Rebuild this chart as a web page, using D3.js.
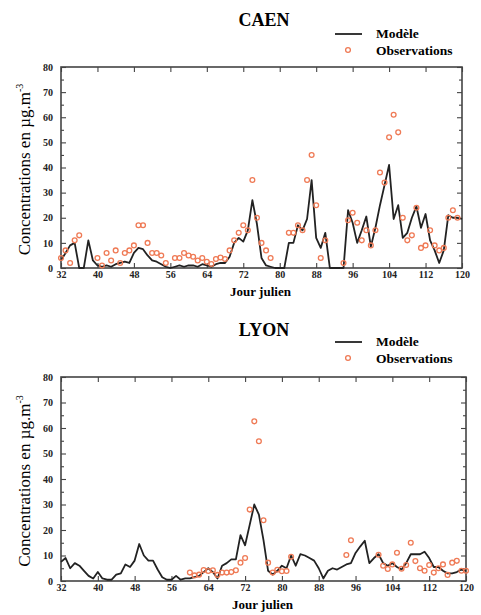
<!DOCTYPE html>
<html>
<head>
<meta charset="utf-8">
<script src="https://cdn.jsdelivr.net/npm/d3@7"></script>
<style>
  body { margin: 0; background: #fff; }
  text { font-family: "Liberation Serif", "DejaVu Serif", serif; }
</style>
</head>
<body>
<svg id="chart" width="481" height="615"></svg>
<script>
'use strict';

// julian days 32 .. 120, one value per day (null = no measurement)
const days = d3.range(32, 121);
const xTicks = [32, 40, 48, 56, 64, 72, 80, 88, 96, 104, 112, 120];
const yTicks = [0, 10, 20, 30, 40, 50, 60, 70, 80];
const yMinor = [5, 15, 25, 35, 45, 55, 65, 75];
const legendLabels = ['Modèle', 'Observations'];

// CAEN
const caenModel = [
  3, 6, 9, 10, 0, 0, 11, 3,            // 32-39
  1, 0.5, 1, 0.5, 1.5, 2, 2.5, 2,      // 40-47
  6, 8, 7.5, 5, 3, 2.5, 1.5, 0.5,      // 48-55
  0, 0.5, 1, 0.5, 1, 1, 0.5, 1.5,      // 56-63
  1, 0.5, 1.5, 2, 2, 4.5, 10, 12,      // 64-71
  10.5, 15, 27, 17.5, 4, 1, 0.5, 0,    // 72-79
  0, 0, 10, 10, 17, 15, 19.5, 35,      // 80-87
  12, 8, 14, 0, 0, 0, 0, 23,           // 88-95
  18, 10, 15, 20.5, 8.5, 16, 25, 33,   // 96-103
  41, 19.5, 25, 12, 14, 20, 24.5, 16,  // 104-111
  21.5, 11, 7, 2, 7, 21, 20, 20,       // 112-119
  19.5                                 // 120
];
const caenObs = [
  4, 7, 2, 11, 13, null, null, null,   // 32-39
  4, 1, 6, 3, 7, 2, 6, 7,              // 40-47
  9, 17, 17, 10, 6, 6, 5, 2,           // 48-55
  null, 4, 4, 6, 5, 4.5, 3, 4,         // 56-63
  2.5, 1.6, 3.6, 4.2, 3.6, 7, 11, 14,  // 64-71
  17, 15, 35, 20, 10, 7, 4, null,      // 72-79
  null, null, 14, 14, 17, 15, 35, 45,  // 80-87
  25, 4, 11, null, null, null, 2, 19,  // 88-95
  22, 18, 11, 15, 9, 15, 38, 34,       // 96-103
  52, 61, 54, 20, 11, 13, 24, 8,       // 104-111
  9, 15, 9, 7, 8, 20, 23, 20,          // 112-119
  null                                 // 120
];

// LYON
const lyonModel = [
  7.5, 9, 5, 7, 6, 4, 2, 1,            // 32-39
  3.5, 1, 0.5, 0.5, 2.5, 3, 6.5, 5.5,  // 40-47
  8, 14.5, 10, 8, 8, 4.5, 1.5, 0.5,    // 48-55
  0.5, 2, 0.5, 1, 1, 1.5, 2, 3.5,      // 56-63
  5, 3.5, 1, 6, 7, 8.5, 8.5, 18,       // 64-71
  14, 22, 30, 26, 16, 4, 2.5, 4,       // 72-79
  6, 5, 10, 6, 10.5, 10, 9, 8,         // 80-87
  5, 1, 4, 5, 4.5, 5.5, 6.5, 7,        // 88-95
  11, 13.5, 15.8, 7, 9, 10.5, 7, 6,    // 96-103
  7, 5.5, 4.5, 7, 10.5, 10.5, 10.5, 11.5, // 104-111
  9, 5.5, 5.5, 4, 3, 3, 3.5, 4.5,      // 112-119
  4                                    // 120
];
const lyonObs = [
  null, null, null, null, null, null, null, null,  // 32-39
  null, null, null, null, null, null, null, null,  // 40-47
  null, null, null, null, null, null, null, null,  // 48-55
  null, null, null, null, 3.3, 2.2, 2.5, 4.3,      // 56-63
  3.9, 4.2, 2.4, 3.3, 3.3, 3.5, 4.2, 7.2,          // 64-71
  9, 28, 62.6, 54.8, 23.8, 7.2, 3.3, 4.4,          // 72-79
  3.8, 3.9, 9.5, null, null, null, null, null,     // 80-87
  null, null, null, null, null, null, 10.2, 16,    // 88-95
  null, null, null, null, null, 10.3, 6, 4.7,      // 96-103
  6.5, 11.1, 4.8, 6.3, 15, 7.8, 5, 4,              // 104-111
  6.3, 3.3, 5, 6.5, 2.4, 7.2, 7.9, 4,              // 112-119
  4                                                // 120
];

const obsColor = '#ef7a55';
const svg = d3.select('#chart');

function drawPanel(cfg) {
  const x = d3.scaleLinear().domain([32, 120]).range([cfg.x0, cfg.x1]);
  const y = d3.scaleLinear().domain([0, 80]).range([cfg.y1, cfg.y0]);
  const g = svg.append('g');

  // title
  g.append('text')
     .attr('x', cfg.titleX)
     .attr('y', cfg.titleY)
     .attr('text-anchor', 'middle')
     .attr('font-weight', 'bold')
     .attr('font-size', 18)
     .text(cfg.title);

  // legend
  const lg = g.append('g').attr('transform', `translate(${cfg.legX}, ${cfg.legY})`);
  lg.append('line')
     .attr('x1', -41).attr('x2', -14).attr('y1', -4).attr('y2', -4)
     .attr('stroke', '#222').attr('stroke-width', 1.8);
  lg.append('text').attr('x', 0).attr('y', 0)
     .attr('font-weight', 'bold').attr('font-size', 13.5).text(legendLabels[0]);
  lg.append('circle').attr('cx', -28).attr('cy', 12).attr('r', 2.4)
     .attr('fill', 'none').attr('stroke', obsColor).attr('stroke-width', 1.3);
  lg.append('text').attr('x', 0).attr('y', 17)
     .attr('font-weight', 'bold').attr('font-size', 13.5).text(legendLabels[1]);

  // axes, ticks pointing inward
  const axisStyle = sel => {
    sel.select('.domain').remove();
    sel.selectAll('line').attr('stroke', '#444').attr('stroke-width', 1.1);
    sel.selectAll('text').attr('font-family', '"Liberation Serif", serif').attr('fill', '#222');
  };

  g.append('g')
     .attr('transform', `translate(0, ${cfg.y1})`)
     .call(d3.axisBottom(x).tickValues(xTicks).tickSize(-5).tickPadding(3))
     .call(axisStyle)
     .selectAll('text').attr('font-size', 10).attr('font-weight', 'bold');
  g.append('g')
     .attr('transform', `translate(0, ${cfg.y0})`)
     .call(d3.axisTop(x).tickValues(xTicks).tickSize(-5).tickFormat(''))
     .call(axisStyle);

  g.append('g')
     .attr('transform', `translate(${cfg.x0}, 0)`)
     .call(d3.axisLeft(y).tickValues(yTicks).tickSize(-5).tickPadding(8))
     .call(axisStyle)
     .selectAll('text').attr('font-size', 10).attr('font-weight', 'bold');
  g.append('g')
     .attr('transform', `translate(${cfg.x0}, 0)`)
     .call(d3.axisLeft(y).tickValues(yMinor).tickSize(-3).tickFormat(''))
     .call(axisStyle);
  g.append('g')
     .attr('transform', `translate(${cfg.x1}, 0)`)
     .call(d3.axisRight(y).tickValues(yTicks).tickSize(-5).tickFormat(''))
     .call(axisStyle);
  g.append('g')
     .attr('transform', `translate(${cfg.x1}, 0)`)
     .call(d3.axisRight(y).tickValues(yMinor).tickSize(-3).tickFormat(''))
     .call(axisStyle);

  // frame
  g.append('rect')
     .attr('x', cfg.x0).attr('y', cfg.y0)
     .attr('width', cfg.x1 - cfg.x0).attr('height', cfg.y1 - cfg.y0)
     .attr('fill', 'none').attr('stroke', '#444').attr('stroke-width', 1.6);

  // model line
  const modelPts = days.map((d, i) => ({ day: d, v: cfg.model[i] }));
  g.append('path')
     .datum(modelPts)
     .attr('fill', 'none')
     .attr('stroke', '#222')
     .attr('stroke-width', 1.8)
     .attr('stroke-linejoin', 'round')
     .attr('d', d3.line().x(d => x(d.day)).y(d => y(d.v)));

  // observations
  const obsPts = days.map((d, i) => ({ day: d, v: cfg.obs[i] })).filter(d => d.v !== null);
  g.selectAll('circle.obs')
     .data(obsPts)
    .enter().append('circle')
     .attr('class', 'obs')
     .attr('cx', d => x(d.day))
     .attr('cy', d => y(d.v))
     .attr('r', 2.4)
     .attr('fill', 'none')
     .attr('stroke', obsColor)
     .attr('stroke-width', 1.3);

  // axis labels
  g.append('text')
     .attr('x', (cfg.x0 + cfg.x1) / 2 - 1)
     .attr('y', cfg.y1 + 28)
     .attr('text-anchor', 'middle')
     .attr('font-weight', 'bold')
     .attr('font-size', 13)
     .text('Jour julien');

  const yl = g.append('text')
     .attr('transform', `translate(30, ${(cfg.y0 + cfg.y1) / 2 + 2}) rotate(-90)`)
     .attr('text-anchor', 'middle')
     .attr('font-size', 17);
  yl.append('tspan').text('Concentrations en µg.m');
  yl.append('tspan').attr('dy', -7).attr('font-size', 10).text('-3');
}

drawPanel({
  title: 'CAEN', titleX: 264, titleY: 26,
  legX: 376, legY: 38,
  x0: 61, x1: 462, y0: 67, y1: 268,
  model: caenModel, obs: caenObs
});

drawPanel({
  title: 'LYON', titleX: 264, titleY: 336,
  legX: 376, legY: 346,
  x0: 61, x1: 466, y0: 377, y1: 581,
  model: lyonModel, obs: lyonObs
});
</script>
</body>
</html>
